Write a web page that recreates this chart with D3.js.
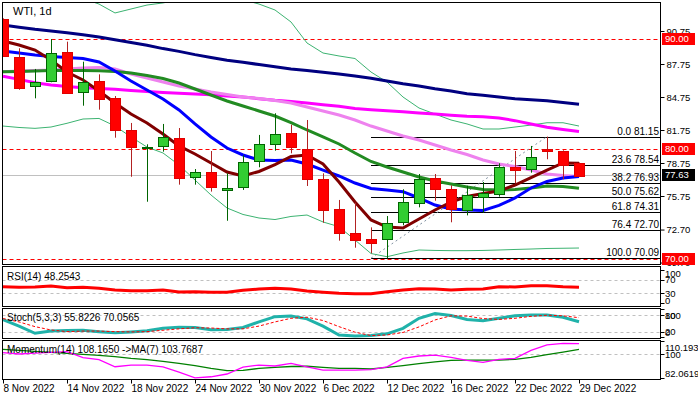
<!DOCTYPE html>
<html>
<head>
<meta charset="utf-8">
<script src="https://cdn.jsdelivr.net/npm/d3@7"></script>
<style>
body { margin: 0; background: #fff; }
text { font-family: "Liberation Sans", Arial, sans-serif; font-size: 10px; fill: #000; }
</style>
</head>
<body>
<div id="chart"></div>
<script>
// chart data
var dates = ["8 Nov 2022", "9 Nov 2022", "10 Nov 2022", "11 Nov 2022", "14 Nov 2022", "15 Nov 2022",
  "16 Nov 2022", "17 Nov 2022", "18 Nov 2022", "21 Nov 2022", "22 Nov 2022", "23 Nov 2022",
  "24 Nov 2022", "25 Nov 2022", "28 Nov 2022", "29 Nov 2022", "30 Nov 2022", "1 Dec 2022",
  "2 Dec 2022", "5 Dec 2022", "6 Dec 2022", "7 Dec 2022", "8 Dec 2022", "9 Dec 2022",
  "12 Dec 2022", "13 Dec 2022", "14 Dec 2022", "15 Dec 2022", "16 Dec 2022", "19 Dec 2022",
  "20 Dec 2022", "21 Dec 2022", "22 Dec 2022", "23 Dec 2022", "27 Dec 2022", "28 Dec 2022", "29 Dec 2022"];

var opens  = [91.84, 88.39, 85.72, 86.14, 88.84, 85.18, 86.20, 84.66, 81.72, 80.10, 80.23, 80.99, 77.45,
  77.90, 76.27, 76.54, 78.90, 80.45, 81.48, 80.00, 77.27, 74.54, 72.36, 71.84, 71.81, 73.36, 75.18,
  77.36, 76.36, 74.45, 75.69, 75.87, 78.36, 78.18, 80.00, 79.84, 78.78];
var highs  = [91.90, 89.18, 87.30, 90.02, 89.78, 87.96, 86.81, 84.84, 82.39, 80.45, 82.30, 81.93, 78.20,
  79.84, 77.81, 79.45, 81.30, 83.27, 82.23, 82.66, 77.81, 75.39, 75.14, 72.90, 73.93, 76.36, 77.75,
  77.75, 76.72, 76.69, 77.02, 78.72, 79.84, 80.30, 81.15, 79.90, 78.80];
var lows   = [88.40, 85.41, 84.63, 86.09, 85.05, 83.96, 83.60, 81.05, 77.50, 75.23, 79.78, 76.78, 76.78,
  76.15, 73.50, 76.30, 78.36, 79.87, 79.63, 76.66, 73.32, 71.69, 71.05, 70.54, 70.09, 73.09, 74.72,
  75.32, 73.36, 73.99, 74.23, 75.69, 76.90, 77.87, 79.09, 77.27, 77.60];
var closes = [88.50, 85.54, 86.09, 88.72, 85.14, 86.09, 84.60, 81.78, 80.18, 80.22, 81.09, 77.32, 77.90,
  76.54, 76.45, 78.84, 80.45, 81.39, 80.23, 77.27, 74.41, 72.36, 71.69, 71.45, 73.27, 75.18, 77.32,
  76.32, 74.54, 75.81, 76.02, 78.36, 78.05, 79.27, 79.78, 78.54, 77.63];

// moving averages
var sma10  = [89.84, 89.48, 89.02, 88.11, 87.02, 86.30, 85.30, 84.20, 83.20, 82.39, 81.39, 80.30, 79.57,
  78.75, 77.93, 77.57, 77.98, 78.61, 79.34, 79.48, 78.66, 77.02, 75.20, 73.57, 72.93, 72.84, 73.66,
  74.48, 75.20, 75.70, 75.98, 76.20, 76.75, 77.43, 78.11, 78.75, 78.72];
var sma20  = [88.93, 88.75, 88.57, 88.43, 88.34, 88.25, 87.93, 87.11, 86.20, 85.39, 84.57, 83.57, 82.30,
  81.12, 80.11, 79.48, 79.02, 78.98, 79.02, 78.66, 78.11, 77.57, 76.93, 76.43, 76.30, 76.14, 75.57,
  74.93, 74.57, 74.48, 74.43, 74.89, 75.57, 76.48, 77.07, 77.39, 77.52];
var sma30  = [87.05, 87.07, 87.11, 87.16, 87.16, 87.16, 87.13, 87.07, 86.93, 86.70, 86.43, 86.02, 85.48,
  84.93, 84.39, 83.93, 83.48, 83.02, 82.43, 81.75, 81.12, 80.48, 79.66, 78.89, 78.39, 77.93, 77.48,
  77.11, 76.84, 76.57, 76.34, 76.30, 76.34, 76.48, 76.66, 76.62, 76.45];
var sma55  = [87.05, 87.11, 87.16, 87.20, 87.30, 87.39, 87.43, 87.30, 86.84, 86.48, 86.11, 85.75, 85.48,
  85.20, 84.98, 84.75, 84.61, 84.43, 84.20, 83.84, 83.48, 83.11, 82.66, 82.11, 81.66, 81.20, 80.84,
  80.39, 79.93, 79.52, 79.02, 78.66, 78.43, 78.11, 77.75, 77.61, 77.52];
var sma100 = [86.63, 86.35, 86.05, 85.85, 85.70, 85.60, 85.52, 85.45, 85.35, 85.25, 85.15, 85.08, 85.02,
  84.95, 84.85, 84.75, 84.60, 84.45, 84.35, 84.20, 84.05, 83.90, 83.70, 83.60, 83.50, 83.40, 83.30,
  83.20, 83.10, 83.00, 82.95, 82.85, 82.60, 82.30, 82.00, 81.80, 81.62];
var sma200 = [91.30, 91.10, 90.90, 90.75, 90.60, 90.40, 90.20, 89.95, 89.70, 89.45, 89.15, 88.90, 88.60,
  88.35, 88.10, 87.90, 87.70, 87.50, 87.30, 87.15, 87.00, 86.85, 86.65, 86.45, 86.20, 85.95, 85.75,
  85.50, 85.30, 85.05, 84.90, 84.75, 84.60, 84.50, 84.40, 84.25, 84.10];

// bollinger bands
var bbUpper = [94.50, 94.30, 94.10, 94.00, 93.90, 93.70, 93.20, 92.39, 92.75, 93.11, 93.30, 93.60, 93.80,
  93.90, 93.80, 93.60, 93.20, 92.66, 91.57, 89.66, 88.75, 88.48, 88.25, 87.02, 86.11, 84.75, 83.75,
  83.20, 82.66, 82.30, 81.84, 81.84, 82.02, 82.20, 82.41, 82.41, 82.11];
var bbLower = [82.11, 81.98, 81.90, 82.02, 82.36, 82.75, 82.80, 82.11, 81.12, 80.20, 79.66, 78.57, 77.20,
  75.84, 74.66, 74.07, 73.75, 73.61, 73.89, 74.02, 73.39, 72.96, 71.75, 70.52, 70.23, 70.57, 70.84,
  70.80, 70.78, 70.78, 70.80, 70.84, 70.89, 70.93, 70.98, 71.00, 71.02];

// oscillators
var rsi = [50, 48, 49, 52, 47, 48, 45, 40, 38, 38, 40, 34, 35, 33, 33, 39, 43, 45, 43, 37, 33, 30, 29,
  29, 35, 40, 44, 43, 40, 42, 43, 50, 49, 53, 53, 50, 48.25];
var stochK = [63, 40, 14, 22, 24, 25, 20, 16, 19, 23, 32, 36, 35, 27, 28, 35, 55, 74, 76, 66, 40, 8, 4,
  6, 12, 32, 68, 85, 78, 64, 59, 68, 77, 80, 80, 72, 55.82];
var stochD = [67, 55, 38, 26, 20, 22, 22, 20, 19, 20, 25, 30, 34, 33, 30, 30, 40, 55, 68, 72, 60, 38, 18,
  6, 8, 17, 37, 62, 77, 76, 67, 64, 68, 75, 79, 77, 70.06];
var momentum = [101.3, 100.3, 101.0, 101.5, 102.1, 97.5, 96.0, 90.6, 91.9, 91.9, 90.6, 86.5, 82.1, 83.0,
  85.1, 90.4, 91.9, 91.2, 93.2, 90.6, 88.1, 88.1, 88.1, 88.5, 90.6, 97.0, 98.8, 99.5, 97.8, 95.5, 94.0,
  96.3, 97.0, 103.0, 107.2, 108.4, 108.17];
var momentumMa = [103.9, 103.0, 102.3, 101.6, 100.8, 100.0, 99.2, 98.3, 97.0, 96.0, 94.7, 93.2, 91.5,
  89.4, 87.6, 87.8, 89.4, 90.2, 90.8, 91.0, 90.2, 89.4, 89.4, 88.9, 90.2, 91.5, 93.0, 94.4, 95.4, 95.7,
  95.7, 95.7, 96.3, 97.8, 99.8, 101.8, 103.77];

// levels and labels
var fibLevels = ["0.0", "23.6", "38.2", "50.0", "61.8", "76.4", "100.0"];
var fibPrices = [81.15, 78.54, 76.93, 75.62, 74.31, 72.70, 70.09];
var redLevels = [90.00, 80.00, 70.00];
var lastPrice = 77.63;
var priceTicks = [90.75, 87.75, 84.75, 81.75, 78.75, 75.75, 72.70, 69.70];
var tickDates = ["8 Nov 2022", "14 Nov 2022", "18 Nov 2022", "24 Nov 2022", "30 Nov 2022",
  "6 Dec 2022", "12 Dec 2022", "16 Dec 2022", "22 Dec 2022", "29 Dec 2022"];

// layout
var svgWidth = 698;
var svgHeight = 398;
var plotLeft = 2.5, plotRight = 660.5;
var panels = {
  main:  {top: 2.5,   bottom: 264.5},
  rsi:   {top: 266.5, bottom: 306.5},
  stoch: {top: 308.5, bottom: 338.5},
  mom:   {top: 340.5, bottom: 379.5}
};

var svg = d3.select("#chart").append("svg")
  .attr("width", svgWidth)
  .attr("height", svgHeight);

var defs = svg.append("defs");
Object.keys(panels).forEach(function(k) {
  var p = panels[k];
  defs.append("clipPath").attr("id", "clip-" + k)
    .append("rect")
    .attr("x", plotLeft).attr("y", p.top)
    .attr("width", plotRight - plotLeft).attr("height", p.bottom - p.top);
});

// scales
var x = d3.scalePoint().domain(dates).range([3, 579]);
var yMain = d3.scaleLinear().domain([70, 90.75]).range([259.25, 31]);
var yRsi = d3.scaleLinear().domain([0, 100]).range([303.3, 270]);
var yStoch = d3.scaleLinear().domain([0, 100]).range([337.2, 309.4]);
var yMom = d3.scaleLinear().domain([82.0619, 110.1937]).range([378, 341]);

function drawLine(g, values, yScale, color, width, dash) {
  var line = d3.line()
    .x((d, i) => x(dates[i]))
    .y(d => yScale(d));
  g.append("path")
    .datum(values)
    .attr("d", line)
    .attr("fill", "none")
    .attr("stroke", color)
    .attr("stroke-width", width)
    .attr("stroke-dasharray", dash || null);
}

function hLine(g, y, x1, color, dash) {
  g.append("line")
    .attr("x1", x1).attr("x2", plotRight)
    .attr("y1", Math.round(y) + 0.5).attr("y2", Math.round(y) + 0.5)
    .attr("stroke", color)
    .attr("stroke-width", 1)
    .attr("stroke-dasharray", dash || null);
}

// ---------- main panel ----------
var mainG = svg.append("g").attr("clip-path", "url(#clip-main)");

redLevels.forEach(v => hLine(mainG, yMain(v), plotLeft, "#ff0000", "4,3"));
hLine(mainG, yMain(lastPrice), plotLeft, "#c0c0c0");

// fibonacci retracement
var fibStart = x(dates[23]);
fibPrices.forEach(function(v, i) {
  hLine(mainG, yMain(v), fibStart, "#000");
  mainG.append("text")
    .attr("x", 659)
    .attr("y", yMain(v) - 2)
    .attr("text-anchor", "end")
    .text(fibLevels[i] + " " + v.toFixed(2));
});
mainG.append("line")
  .attr("x1", x(dates[23])).attr("y1", yMain(fibPrices[6]))
  .attr("x2", x(dates[34])).attr("y2", yMain(fibPrices[0]))
  .attr("stroke", "#8090a0")
  .attr("stroke-dasharray", "2,3");

drawLine(mainG, bbUpper, yMain, "#3cb371", 1);
drawLine(mainG, bbLower, yMain, "#3cb371", 1);
drawLine(mainG, sma200, yMain, "#000080", 3);
drawLine(mainG, sma100, yMain, "#ff00ff", 3);
drawLine(mainG, sma55, yMain, "#ee82ee", 3);
drawLine(mainG, sma30, yMain, "#228b22", 3);
drawLine(mainG, sma20, yMain, "#0000ff", 3);
drawLine(mainG, sma10, yMain, "#800000", 3);

// candles
var candles = dates.map((d, i) => ({date: d, o: opens[i], h: highs[i], l: lows[i], c: closes[i]}));

mainG.selectAll(".wick")
  .data(candles)
  .enter()
  .append("line")
  .attr("x1", d => x(d.date) + 0.5)
  .attr("x2", d => x(d.date) + 0.5)
  .attr("y1", d => yMain(d.h))
  .attr("y2", d => yMain(d.l))
  .attr("stroke", d => d.c >= d.o ? "#006400" : "#b22222")
  .attr("stroke-width", 1);

mainG.selectAll(".body")
  .data(candles)
  .enter()
  .append("rect")
  .attr("x", d => x(d.date) - 4.5)
  .attr("y", d => Math.round(yMain(Math.max(d.o, d.c))) + 0.5)
  .attr("width", 10)
  .attr("height", d => Math.max(1, Math.round(Math.abs(yMain(d.o) - yMain(d.c)))))
  .attr("fill", d => d.c >= d.o ? "#32cd32" : "#ff0000")
  .attr("stroke", d => d.c >= d.o ? "#006400" : "#e00000")
  .attr("stroke-width", 1);

svg.append("text").attr("x", 13).attr("y", 15).style("font-size", "11px").text("WTI, 1d");

// price axis
var priceAxis = d3.axisRight(yMain)
  .tickValues(priceTicks)
  .tickSize(4)
  .tickPadding(2)
  .tickFormat(d3.format(".2f"));
var priceAxisG = svg.append("g")
  .attr("transform", `translate(${plotRight}, 0)`)
  .call(priceAxis);
priceAxisG.select(".domain").remove();
priceAxisG.selectAll("text").style("font-size", "9.5px").attr("fill", "#000")
  .style("font-family", "Liberation Sans, Arial, sans-serif");

function priceBox(v, color) {
  var y = Math.round(yMain(v));
  svg.append("rect")
    .attr("x", 662).attr("y", y - 6)
    .attr("width", 33).attr("height", 12)
    .attr("fill", color);
  svg.append("text")
    .attr("x", 665).attr("y", y)
    .attr("dy", "0.35em")
    .style("fill", "#fff")
    .style("font-size", "9.5px")
    .text(v.toFixed(2));
}
redLevels.forEach(v => priceBox(v, "#ff0000"));
priceBox(lastPrice, "#000");

// ---------- indicator panels ----------
function panelAxisLabels(values, yScale, p) {
  values.forEach(function(v) {
    var y = Math.min(Math.max(yScale(v), p.top + 7), p.bottom - 6);
    svg.append("line")
      .attr("x1", plotRight).attr("x2", plotRight + 4)
      .attr("y1", Math.round(yScale(v)) + 0.5).attr("y2", Math.round(yScale(v)) + 0.5)
      .attr("stroke", "#000");
    svg.append("text")
      .attr("x", 665).attr("y", y)
      .attr("dy", "0.35em")
      .style("font-size", "9.5px")
      .text(v);
  });
}

// RSI
var rsiG = svg.append("g").attr("clip-path", "url(#clip-rsi)");
[70, 30].forEach(v => hLine(rsiG, yRsi(v), plotLeft, "#c0c0c0", "3,3"));
drawLine(rsiG, rsi, yRsi, "#ff0000", 3);
svg.append("text").attr("x", 7).attr("y", 280).text("RSI(14) 48.2543");
panelAxisLabels([100, 70, 30, 0], yRsi, panels.rsi);

// Stochastic
var stochG = svg.append("g").attr("clip-path", "url(#clip-stoch)");
[80, 20].forEach(v => hLine(stochG, yStoch(v), plotLeft, "#c0c0c0", "3,3"));
drawLine(stochG, stochK, yStoch, "#20b2aa", 3);
drawLine(stochG, stochD, yStoch, "#ff0000", 1, "3,2");
svg.append("text").attr("x", 7).attr("y", 321).text("Stoch(5,3,3) 55.8226 70.0565");
panelAxisLabels([100, 80, 20, 0], yStoch, panels.stoch);

// Momentum
var momG = svg.append("g").attr("clip-path", "url(#clip-mom)");
hLine(momG, yMom(100), plotLeft, "#c0c0c0", "3,3");
drawLine(momG, momentumMa, yMom, "#008000", 1.3);
drawLine(momG, momentum, yMom, "#ff00ff", 1.3);
svg.append("text").attr("x", 7).attr("y", 353).text("Momentum(14) 108.1650  ->MA(7) 103.7687");
panelAxisLabels([110.1937, 100, 82.0619], yMom, panels.mom);

// panel frames
Object.keys(panels).forEach(function(k) {
  var p = panels[k];
  svg.append("rect")
    .attr("x", plotLeft).attr("y", p.top)
    .attr("width", plotRight - plotLeft).attr("height", p.bottom - p.top)
    .attr("fill", "none")
    .attr("stroke", "#000");
});

// time axis
var timeAxis = d3.axisBottom(x)
  .tickValues(tickDates)
  .tickSize(4)
  .tickPadding(1);
var timeAxisG = svg.append("g")
  .attr("transform", `translate(0, ${panels.mom.bottom})`)
  .call(timeAxis);
timeAxisG.select(".domain").remove();
timeAxisG.selectAll("text")
  .attr("text-anchor", "start")
  .attr("fill", "#000")
  .style("font-size", "10px")
  .style("font-family", "Liberation Sans, Arial, sans-serif");
</script>
</body>
</html>
